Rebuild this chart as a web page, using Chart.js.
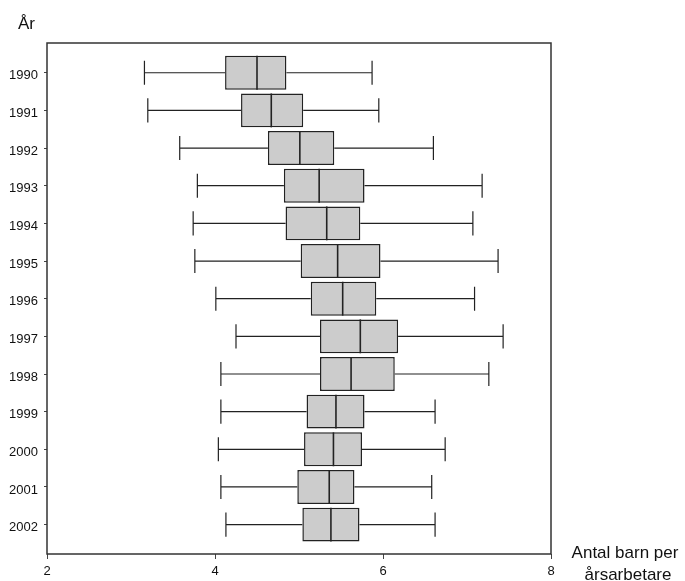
<!DOCTYPE html>
<html>
<head>
<meta charset="utf-8">
<script src="https://cdn.jsdelivr.net/npm/chart.js@4/dist/chart.umd.min.js"></script>
<style>
  body { margin: 0; background: #fff; }
  #wrap { width: 685px; height: 581px; }
</style>
</head>
<body>
<div id="wrap"><canvas id="chart" width="685" height="581"></canvas></div>
<script>
// Data: en rad per år (min, kvartil 1, median, kvartil 3, max)
const years   = [1990, 1991, 1992, 1993, 1994, 1995, 1996, 1997, 1998, 1999, 2000, 2001, 2002];
const lowW    = [3.16, 3.20, 3.58, 3.79, 3.74, 3.76, 4.01, 4.25, 4.07, 4.07, 4.04, 4.07, 4.13];
const q1      = [4.12, 4.31, 4.63, 4.82, 4.84, 5.02, 5.14, 5.25, 5.25, 5.09, 5.06, 4.98, 5.04];
const median  = [4.50, 4.67, 5.01, 5.24, 5.33, 5.46, 5.52, 5.73, 5.62, 5.44, 5.41, 5.36, 5.38];
const q3      = [4.85, 5.05, 5.42, 5.78, 5.73, 5.97, 5.92, 6.18, 6.14, 5.78, 5.75, 5.66, 5.72];
const highW   = [5.87, 5.95, 6.60, 7.18, 7.07, 7.37, 7.09, 7.43, 7.26, 6.62, 6.74, 6.58, 6.62];
const xTicks  = [2, 4, 6, 8];

const FONT = '"Liberation Sans", Arial, sans-serif';
const boxFill = '#cccccc';
const lineCol = '#222222';

// morrhår under lådorna, median ovanpå
const boxPlugin = {
  id: 'boxparts',
  beforeDatasetsDraw(chart) {
    const ctx = chart.ctx;
    const xs = chart.scales.x, ys = chart.scales.y;
    ctx.save();
    ctx.strokeStyle = lineCol;
    ctx.lineWidth = 1.2;
    years.forEach((yr, i) => {
      const yc = ys.getPixelForValue(yr);
      const half = Math.abs(ys.getPixelForValue(yr + 0.32) - yc);
      const xl = xs.getPixelForValue(lowW[i]);
      const xh = xs.getPixelForValue(highW[i]);
      ctx.beginPath();
      ctx.moveTo(xl, yc); ctx.lineTo(xs.getPixelForValue(q1[i]), yc);
      ctx.moveTo(xs.getPixelForValue(q3[i]), yc); ctx.lineTo(xh, yc);
      ctx.moveTo(xl, yc - half); ctx.lineTo(xl, yc + half);
      ctx.moveTo(xh, yc - half); ctx.lineTo(xh, yc + half);
      ctx.stroke();
    });
    ctx.restore();
  },
  afterDatasetsDraw(chart) {
    const ctx = chart.ctx;
    const xs = chart.scales.x;
    const bars = chart.getDatasetMeta(0).data;
    ctx.save();
    ctx.strokeStyle = lineCol;
    ctx.lineWidth = 1.6;
    bars.forEach((bar, i) => {
      const xm = xs.getPixelForValue(median[i]);
      ctx.beginPath();
      ctx.moveTo(xm, bar.y - bar.height / 2);
      ctx.lineTo(xm, bar.y + bar.height / 2);
      ctx.stroke();
    });
    ctx.restore();
  },
  afterDraw(chart) {
    const ctx = chart.ctx;
    const a = chart.chartArea;
    ctx.save();
    // ram runt diagrammet
    ctx.strokeStyle = '#333';
    ctx.lineWidth = 1.5;
    ctx.strokeRect(a.left, a.top, a.right - a.left, a.bottom - a.top);
    // axeltitlar
    ctx.fillStyle = '#111';
    ctx.font = '17px ' + FONT;
    ctx.textAlign = 'left';
    ctx.textBaseline = 'alphabetic';
    ctx.fillText('År', 18, 29);
    ctx.textAlign = 'center';
    ctx.textBaseline = 'middle';
    ctx.fillText('Antal barn per', 625, 553);
    ctx.fillText('årsarbetare', 628, 575);
    ctx.restore();
  }
};

const boxes = years.map((y, i) => ({ y: y, x: [q1[i], q3[i]] }));

new Chart(document.getElementById('chart'), {
  type: 'bar',
  data: {
    datasets: [{
      label: 'Kvartiler',
      data: boxes,
      backgroundColor: boxFill,
      borderColor: lineCol,
      borderWidth: 1.5,
      borderSkipped: false,
      categoryPercentage: 1,
      barPercentage: 0.9
    }]
  },
  options: {
    indexAxis: 'y',
    responsive: false,
    animation: false,
    layout: { padding: { top: 43, right: 134, left: 0, bottom: 0 } },
    plugins: { legend: { display: false }, tooltip: { enabled: false } },
    scales: {
      x: {
        type: 'linear',
        min: 2,
        max: 8,
        afterBuildTicks: axis => { axis.ticks = xTicks.map(v => ({ value: v })); },
        afterFit: scale => { scale.height = 27; },
        border: { display: false },
        grid: { drawOnChartArea: false, drawTicks: true, tickLength: 5, color: '#444' },
        ticks: { color: '#111', font: { family: FONT, size: 13 }, padding: 5, maxRotation: 0 }
      },
      y: {
        type: 'linear',
        reverse: true,
        offset: false,
        min: 1989.21,
        max: 2002.78,
        afterBuildTicks: axis => { axis.ticks = years.map(v => ({ value: v })); },
        afterFit: scale => { scale.width = 47; },
        border: { display: false },
        grid: { offset: false, drawOnChartArea: false, drawTicks: true, tickLength: 3, color: '#444' },
        ticks: {
          color: '#111',
          font: { family: FONT, size: 13 },
          padding: 6,
          labelOffset: 3,
          callback: v => String(v)
        }
      }
    }
  },
  plugins: [boxPlugin]
});
</script>
</body>
</html>
